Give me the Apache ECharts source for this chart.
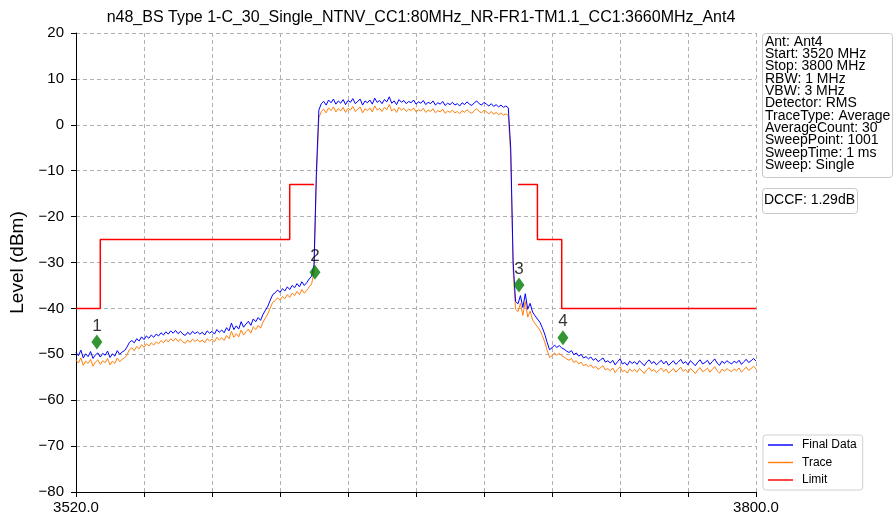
<!DOCTYPE html>
<html><head><meta charset="utf-8">
<script src="https://cdn.jsdelivr.net/npm/echarts@6/dist/echarts.min.js"></script>
<style>html,body{margin:0;padding:0;background:#fff}#c{width:894px;height:521px}</style>
</head><body><div id="c"></div>
<script>
const titleText = 'n48_BS Type 1-C_30_Single_NTNV_CC1:80MHz_NR-FR1-TM1.1_CC1:3660MHz_Ant4';
const startFreq = 3520, stepFreq = 1;
// Final Data (blue), one value per MHz from 3520 to 3800
const finalData = [
-49.6,-50.3,-49.1,-50.8,-49.9,-50.5,-49.4,-50.9,-50.1,-49.7,
-50.6,-49.8,-50.2,-49.3,-50.7,-49.9,-50.4,-49.2,-50.0,-49.5,
-49.2,-48.4,-47.4,-47.0,-47.5,-46.6,-47.1,-46.2,-46.8,-46.0,
-46.5,-45.8,-46.3,-45.6,-46.0,-45.3,-45.8,-45.1,-45.6,-44.9,
-45.4,-44.8,-45.5,-45.0,-45.6,-45.9,-45.2,-45.7,-45.0,-45.5,
-45.1,-45.6,-45.2,-45.8,-44.9,-45.4,-45.0,-45.6,-44.6,-45.2,
-44.7,-45.3,-44.2,-44.9,-43.2,-44.6,-43.8,-44.5,-42.9,-44.1,
-43.4,-42.8,-43.7,-42.3,-42.9,-42.0,-42.6,-41.3,-40.4,-39.5,
-38.2,-37.0,-36.6,-36.0,-36.5,-35.7,-36.2,-35.3,-35.9,-35.0,
-35.5,-34.6,-35.3,-34.2,-35.0,-34.4,-33.6,-33.0,-30.5,-10.0,
3.2,4.6,5.1,4.3,5.4,4.8,5.6,4.5,5.2,4.7,
5.5,4.4,5.3,4.9,5.7,4.6,5.1,5.6,4.3,5.2,
4.8,5.4,4.5,5.8,4.9,5.3,4.6,5.5,5.0,6.1,
4.7,5.2,4.4,5.5,4.9,5.3,4.6,5.1,4.8,5.4,
4.5,5.0,4.7,5.3,4.4,4.9,4.6,5.2,4.3,4.8,
4.5,5.1,4.2,4.7,4.4,4.9,4.3,4.6,4.1,4.8,
4.4,5.0,4.5,4.2,4.8,5.2,4.6,4.3,4.9,4.5,
4.1,4.6,4.0,4.4,3.9,4.3,3.8,4.1,3.7,-5.0,
-30.0,-38.5,-39.0,-37.2,-39.8,-36.8,-40.2,-38.9,-40.8,-41.6,
-42.3,-43.0,-44.2,-45.6,-47.4,-49.0,-48.6,-48.0,-48.5,-48.1,
-48.6,-48.9,-49.3,-49.6,-49.2,-50.1,-49.7,-50.4,-50.0,-50.8,
-50.5,-51.0,-50.6,-51.3,-50.9,-51.6,-51.2,-50.8,-51.7,-51.4,
-51.9,-51.3,-52.3,-51.6,-51.0,-52.1,-51.8,-52.4,-51.5,-52.0,
-51.6,-52.2,-51.4,-51.9,-52.5,-51.7,-51.2,-52.0,-51.6,-52.3,
-51.8,-51.3,-52.1,-51.5,-52.4,-51.9,-51.4,-52.2,-51.7,-51.1,
-52.0,-51.6,-52.3,-51.4,-51.9,-52.5,-51.7,-51.2,-52.1,-51.8,
-51.3,-52.2,-51.6,-51.0,-51.9,-52.4,-51.5,-52.0,-51.4,-51.8,
-52.1,-51.5,-51.9,-51.3,-52.2,-51.6,-51.1,-51.8,-51.4,-50.9,
-51.5
];
// Trace (orange)
const traceData = [
-51.3,-51.9,-50.8,-52.4,-51.5,-52.0,-51.1,-52.6,-51.7,-51.2,
-52.2,-51.4,-51.8,-50.9,-52.3,-51.5,-52.0,-50.8,-51.6,-51.1,
-50.8,-50.1,-49.0,-48.6,-49.2,-48.3,-48.8,-47.9,-48.5,-47.7,
-48.2,-47.5,-48.0,-47.3,-47.7,-47.0,-47.5,-46.8,-47.3,-46.6,
-47.1,-46.5,-47.2,-46.7,-47.3,-47.6,-46.9,-47.4,-46.7,-47.2,
-46.8,-47.3,-46.9,-47.5,-46.6,-47.1,-46.7,-47.3,-46.3,-46.9,
-46.4,-47.0,-45.9,-46.6,-45.0,-46.3,-45.5,-46.2,-44.7,-45.8,
-45.1,-44.5,-45.4,-44.0,-44.6,-43.7,-44.3,-43.0,-42.1,-41.2,
-39.9,-38.7,-38.3,-37.7,-38.2,-37.4,-37.9,-37.0,-37.6,-36.7,
-37.2,-36.3,-37.0,-35.9,-36.7,-36.1,-35.3,-34.7,-32.2,-11.7,
1.5,2.9,3.4,2.6,3.7,3.1,3.9,2.8,3.5,3.0,
3.8,2.7,3.6,3.2,4.0,2.9,3.4,3.9,2.6,3.5,
3.1,3.7,2.8,4.1,3.2,3.6,2.9,3.8,3.3,4.4,
3.0,3.5,2.7,3.8,3.2,3.6,2.9,3.4,3.1,3.7,
2.8,3.3,3.0,3.6,2.7,3.2,2.9,3.5,2.6,3.1,
2.8,3.4,2.5,3.0,2.7,3.2,2.6,2.9,2.4,3.1,
2.7,3.3,2.8,2.5,3.1,3.5,2.9,2.6,3.2,2.8,
2.4,2.9,2.3,2.7,2.2,2.6,2.1,2.4,2.0,-6.7,
-31.7,-40.2,-40.7,-38.9,-41.5,-38.5,-41.9,-40.6,-42.5,-43.3,
-44.0,-44.7,-45.9,-47.3,-49.1,-50.7,-50.3,-49.7,-50.2,-49.8,
-50.3,-50.6,-51.0,-51.3,-50.9,-51.8,-51.4,-52.1,-51.7,-52.5,
-52.2,-52.7,-52.3,-53.0,-52.6,-53.3,-52.9,-52.5,-53.4,-53.1,
-53.6,-53.0,-54.0,-53.3,-52.7,-53.8,-53.5,-54.1,-53.2,-53.7,
-53.3,-53.9,-53.1,-53.6,-54.2,-53.4,-52.9,-53.7,-53.3,-54.0,
-53.5,-53.0,-53.8,-53.2,-54.1,-53.6,-53.1,-53.9,-53.4,-52.8,
-53.7,-53.3,-54.0,-53.1,-53.6,-54.2,-53.4,-52.9,-53.8,-53.5,
-53.0,-53.9,-53.3,-52.7,-53.6,-54.1,-53.2,-53.7,-53.1,-53.5,
-53.8,-53.2,-53.6,-53.0,-53.9,-53.3,-52.8,-53.5,-53.1,-52.6,
-53.2
];
// Limit line (null = gap)
const limitFreq  = [3520, 3530, 3530, 3608, 3608, 3618, null, 3702, 3710, 3710, 3720, 3720, 3800];
const limitLevel = [-40,  -40,  -25,  -25,  -13,  -13,  null, -13,  -13,  -25,  -25,  -40,  -40];
// Markers
const markerLabel = ['1', '2', '3', '4'];
const markerFreq  = [3528.6, 3618.4, 3702.4, 3720.5];
const markerLevel = [-47.3, -32.1, -34.9, -46.4];
// Axis ticks
const xTickValues = [3520, 3548, 3576, 3604, 3632, 3660, 3688, 3716, 3744, 3772, 3800];
const xLabelValues = [3520, 3800];
const yMin = -80, yMax = 20, yStep = 10;
// Info text
const infoLines = ['Ant: Ant4','Start: 3520 MHz','Stop: 3800 MHz','RBW: 1 MHz','VBW: 3 MHz','Detector: RMS','TraceType: Average','AverageCount: 30','SweepPoint: 1001','SweepTime: 1 ms','Sweep: Single'];
const dccfText = 'DCCF: 1.29dB';

const freqs = finalData.map((_, i) => startFreq + i * stepFreq);
const FONT = '"Liberation Sans", Arial, sans-serif';
const chart = echarts.init(document.getElementById('c'), null, {renderer: 'canvas'});
const minus = v => String(v).replace('-', '\u2212');

chart.setOption({
  animation: false,
  backgroundColor: '#fff',
  textStyle: {fontFamily: FONT},
  title: {text: titleText, left: 416, textAlign: 'center', top: 5,
    textStyle: {fontFamily: FONT, fontSize: 16, fontWeight: 'normal', color: '#000'}},
  grid: {left: 76, right: 138, top: 33, bottom: 29},
  legend: {
    data: ['Final Data', 'Trace', 'Limit'], orient: 'vertical', left: 763, top: 435,
    backgroundColor: '#fff', borderColor: '#d0d0d0', borderWidth: 1, borderRadius: 3,
    padding: [3, 6, 3, 5], itemGap: 3.5, itemWidth: 25, itemHeight: 14,
    textStyle: {fontFamily: FONT, fontSize: 12, lineHeight: 14, color: '#000', padding: [0, 0, 0, 4]},
    icon: 'path://M0,6 L26,6 L26,7.5 L0,7.5 Z'
  },
  xAxis: {
    type: 'value', min: 3520, max: 3800,
    axisLine: {onZero: false, lineStyle: {color: '#000', width: 1}},
    axisTick: {show: true, inside: false, length: 5, customValues: xTickValues, lineStyle: {color: '#000'}},
    axisLabel: {customValues: xLabelValues, formatter: v => v.toFixed(1), fontSize: 15, color: '#000', margin: 8, fontFamily: FONT},
    splitLine: {show: true, lineStyle: {color: '#b0b0b0', type: [4, 3], width: 1}}
  },
  yAxis: {
    type: 'value', min: yMin, max: yMax, interval: yStep,
    name: 'Level (dBm)', nameLocation: 'middle', nameGap: 49, nameRotate: 90,
    nameTextStyle: {fontSize: 19, color: '#000', fontFamily: FONT},
    axisLine: {show: true, lineStyle: {color: '#000', width: 1}},
    axisTick: {show: true, length: 5, lineStyle: {color: '#000'}},
    axisLabel: {formatter: v => minus(v), fontSize: 15, color: '#000', margin: 12, fontFamily: FONT},
    splitLine: {show: true, lineStyle: {color: '#b0b0b0', type: [4, 3], width: 1}}
  },
  series: [
    {name: 'Trace', type: 'line', data: freqs.map((f, i) => [f, traceData[i]]), showSymbol: false, symbol: 'none',
      lineStyle: {color: '#ff7f0e', width: 1}, itemStyle: {color: '#ff7f0e'}, z: 2},
    {name: 'Final Data', type: 'line', data: freqs.map((f, i) => [f, finalData[i]]), showSymbol: false, symbol: 'none',
      lineStyle: {color: '#0000ff', width: 1}, itemStyle: {color: '#0000ff'}, z: 3},
    {name: 'Limit', type: 'line', data: limitFreq.map((f, i) => f === null ? ['-', '-'] : [f, limitLevel[i]]), showSymbol: false, symbol: 'none',
      connectNulls: false, lineStyle: {color: '#ff0000', width: 1.5}, itemStyle: {color: '#ff0000'}, z: 4},
    {name: 'Markers', type: 'scatter', data: markerFreq.map((f, i) => ({name: markerLabel[i], value: [f, markerLevel[i]]})),
      symbol: 'diamond', symbolSize: [11, 15], itemStyle: {color: '#007a00'}, z: 5,
      label: {show: true, position: 'top', distance: 0, formatter: p => p.name, fontSize: 17, color: '#000', fontFamily: FONT}}
  ],
  graphic: [
    {type: 'rect', left: 762, top: 33, shape: {width: 130, height: 144, r: 3}, style: {fill: '#fff', stroke: '#c8c8c8', lineWidth: 1}, z: 10},
    {type: 'text', left: 765, top: 35, z: 11, style: {text: infoLines.join('\n'), font: '14px ' + FONT, lineHeight: 12.3, fill: '#000'}},
    {type: 'rect', left: 762, top: 188, shape: {width: 95, height: 25, r: 3}, style: {fill: '#fff', stroke: '#c8c8c8', lineWidth: 1}, z: 10},
    {type: 'text', left: 764, top: 193, z: 11, style: {text: dccfText, font: '14px ' + FONT, fill: '#000'}}
  ]
});
</script></body></html>
